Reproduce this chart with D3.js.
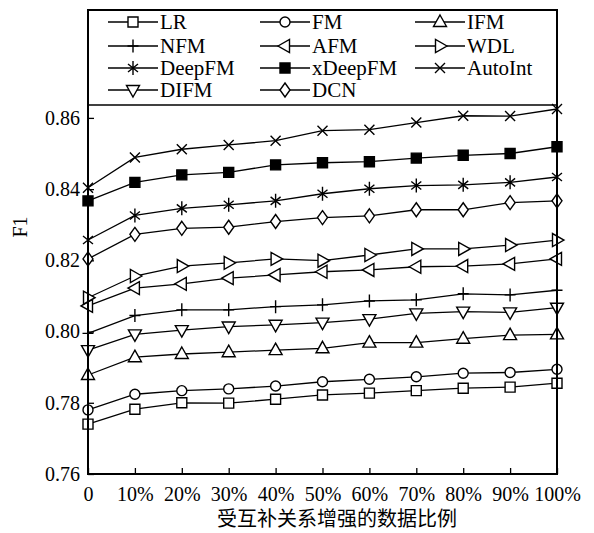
<!DOCTYPE html>
<html>
<head>
<meta charset="utf-8">
<script src="https://cdnjs.cloudflare.com/ajax/libs/d3/7.8.5/d3.min.js"></script>
<style>
  body { margin: 0; background: #fff; }
  text { font-family: "Liberation Serif", "Times New Roman", serif; fill: #000; }
</style>
</head>
<body>
<div id="viz"></div>
<script>
// data
var ratios = ["0", "10%", "20%", "30%", "40%", "50%", "60%", "70%", "80%", "90%", "100%"];
var yTicks = [0.76, 0.78, 0.80, 0.82, 0.84, 0.86];

var LR      = [0.7740, 0.7782, 0.7800, 0.7799, 0.7810, 0.7822, 0.7827, 0.7834, 0.7841, 0.7844, 0.7855];
var FM      = [0.7780, 0.7824, 0.7834, 0.7839, 0.7847, 0.7859, 0.7866, 0.7873, 0.7883, 0.7885, 0.7894];
var IFM     = [0.7878, 0.7928, 0.7937, 0.7942, 0.7948, 0.7953, 0.7969, 0.7969, 0.7980, 0.7990, 0.7992];
var NFM     = [0.7995, 0.8045, 0.8061, 0.8061, 0.8070, 0.8075, 0.8086, 0.8089, 0.8106, 0.8103, 0.8116];
var AFM     = [0.8072, 0.8122, 0.8134, 0.8150, 0.8159, 0.8168, 0.8173, 0.8182, 0.8184, 0.8190, 0.8204];
var WDL     = [0.8095, 0.8156, 0.8184, 0.8193, 0.8204, 0.8199, 0.8215, 0.8232, 0.8232, 0.8243, 0.8257];
var DeepFM  = [0.8257, 0.8326, 0.8346, 0.8356, 0.8367, 0.8387, 0.8401, 0.8410, 0.8412, 0.8419, 0.8434];
var xDeepFM = [0.8367, 0.8419, 0.8440, 0.8447, 0.8468, 0.8474, 0.8477, 0.8487, 0.8495, 0.8500, 0.8519];
var AutoInt = [0.8404, 0.8489, 0.8512, 0.8524, 0.8536, 0.8564, 0.8567, 0.8587, 0.8606, 0.8605, 0.8625];
var DIFM    = [0.7948, 0.7992, 0.8004, 0.8014, 0.8019, 0.8025, 0.8035, 0.8051, 0.8056, 0.8054, 0.8067];
var DCN     = [0.8204, 0.8273, 0.8290, 0.8293, 0.8309, 0.8320, 0.8325, 0.8342, 0.8342, 0.8362, 0.8367];

var series = [
  { name: "LR", values: LR, marker: "square" },
  { name: "FM", values: FM, marker: "circle" },
  { name: "IFM", values: IFM, marker: "triUp" },
  { name: "NFM", values: NFM, marker: "plus" },
  { name: "AFM", values: AFM, marker: "triLeft" },
  { name: "WDL", values: WDL, marker: "triRight" },
  { name: "DeepFM", values: DeepFM, marker: "star" },
  { name: "xDeepFM", values: xDeepFM, marker: "filledSquare" },
  { name: "AutoInt", values: AutoInt, marker: "cross" },
  { name: "DIFM", values: DIFM, marker: "triDown" },
  { name: "DCN", values: DCN, marker: "diamond" }
];

// set the dimensions and margins of the graph
var margin = { top: 10, right: 37, bottom: 59, left: 88 },
    width = 594 - margin.left - margin.right,
    height = 533 - margin.top - margin.bottom;

var svg = d3.select("#viz")
  .append("svg")
  .attr("width", 594)
  .attr("height", 533)
  .append("g")
  .attr("transform", "translate(" + margin.left + "," + margin.top + ")");

var xScale = d3.scalePoint().domain(ratios).range([0, width]);
var yScale = d3.scaleLinear().domain([0.76, 0.8903]).range([height, 0]);

// marker path builders
function markerPath(type) {
  switch (type) {
    case "square":
    case "filledSquare":
      return "M-5,-5H5V5H-5Z";
    case "circle":
      return "M5,0A5,5 0 1,1 -5,0A5,5 0 1,1 5,0Z";
    case "triUp":
      return "M0,-7L6.5,4.5H-6.5Z";
    case "triDown":
      return "M0,7L6.5,-4.5H-6.5Z";
    case "triLeft":
      return "M-7,0L4.5,-6.5V6.5Z";
    case "triRight":
      return "M7,0L-4.5,-6.5V6.5Z";
    case "plus":
      return "M0,-6.5V6.5M-5.5,0H5.5";
    case "cross":
      return "M-5,-5L5,5M-5,5L5,-5";
    case "star":
      return "M0,-7V7M-5,-4L5,4M-5,4L5,-4";
    case "diamond":
      return "M0,-7L5,0L0,7L-5,0Z";
  }
}

function drawMarker(g, type, x, y) {
  g.append("path")
    .attr("transform", "translate(" + x + "," + y + ")")
    .attr("d", markerPath(type))
    .attr("fill", type === "filledSquare" ? "#000" : "#fff")
    .attr("stroke", "#000")
    .attr("stroke-width", 1.4);
}

// y axis ticks and labels
var yAxis = d3.axisLeft(yScale).tickValues(yTicks).tickSize(-6).tickPadding(8)
  .tickFormat(d3.format(".2f"));
var gy = svg.append("g").call(yAxis);
gy.select(".domain").remove();
gy.selectAll("line").attr("stroke-width", 1.3);
gy.selectAll("text").style("font-size", "20px");

// x axis ticks and labels
var xAxis = d3.axisBottom(xScale).tickSize(-6).tickPadding(13);
var gx = svg.append("g")
  .attr("transform", "translate(0," + height + ")")
  .call(xAxis);
gx.select(".domain").remove();
gx.selectAll("line").attr("stroke-width", 1.3);
gx.selectAll("text").style("font-size", "20px");

// lines and markers
var drawLine = d3.line()
  .x((d, i) => xScale(ratios[i]))
  .y(d => yScale(d));

series.forEach(s => {
  svg.append("path")
    .datum(s.values)
    .attr("fill", "none")
    .attr("stroke", "#000")
    .attr("stroke-width", 1.3)
    .attr("d", drawLine);
});
series.forEach(s => {
  var g = svg.append("g");
  s.values.forEach((v, i) => drawMarker(g, s.marker, xScale(ratios[i]), yScale(v)));
});

// legend box (top part of the frame)
svg.append("line")
  .attr("x1", 0).attr("x2", width)
  .attr("y1", 95).attr("y2", 95)
  .attr("stroke", "#000")
  .attr("stroke-width", 1.3);

var legendCols = [20, 172, 327],
    legendRows = [12, 36, 58, 80];
series.forEach((s, i) => {
  var lx = legendCols[i % 3], ly = legendRows[Math.floor(i / 3)];
  var g = svg.append("g");
  g.append("line")
    .attr("x1", lx).attr("x2", lx + 50)
    .attr("y1", ly).attr("y2", ly)
    .attr("stroke", "#000").attr("stroke-width", 1.3);
  drawMarker(g, s.marker, lx + 25, ly);
  g.append("text")
    .attr("x", lx + 52).attr("y", ly)
    .attr("dy", "0.35em")
    .style("font-size", "21px")
    .text(s.name);
});

// frame
svg.append("rect")
  .attr("width", width)
  .attr("height", height)
  .attr("fill", "none")
  .attr("stroke", "#000")
  .attr("stroke-width", 2);

// axis titles
svg.append("text")
  .attr("x", 249)
  .attr("y", height + 52)
  .style("text-anchor", "middle")
  .style("font-family", "'Noto Sans CJK SC', sans-serif")
  .style("font-size", "20px")
  .text("受互补关系增强的数据比例");

svg.append("text")
  .attr("transform", "rotate(-90)")
  .attr("x", -217)
  .attr("y", -61)
  .style("text-anchor", "middle")
  .style("font-size", "20px")
  .text("F1");
</script>
</body>
</html>
